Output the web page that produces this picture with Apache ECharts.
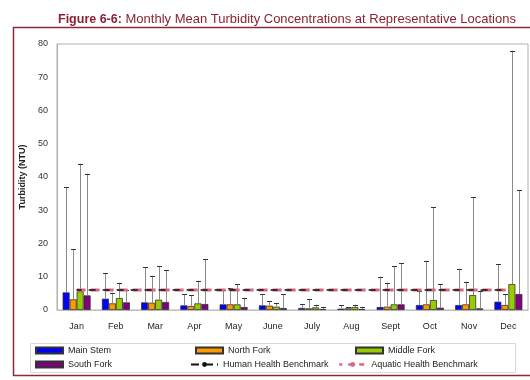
<!DOCTYPE html>
<html><head><meta charset="utf-8">
<script src="https://cdn.jsdelivr.net/npm/echarts@6/dist/echarts.min.js"></script>
<style>html,body{margin:0;padding:0;background:#fff}#c{width:530px;height:380px}</style>
</head><body><div id="c"></div>
<script>
var months = ['Jan','Feb','Mar','Apr','May','June','July','Aug','Sept','Oct','Nov','Dec'];
var yTicks = [0,10,20,30,40,50,60,70,80];
var mainStem      = [5.3, 3.4, 2.3, 1.4, 1.7, 1.4, 0.6, 0.4, 0.9, 1.5, 1.5, 2.5];
var mainStemErr   = [37, 11, 12.8, 4.8, 6, 4.8, 1.8, 1.5, 10, 5.8, 12.2, 13.8];
var northFork     = [3.2, 2.0, 2.2, 1.2, 1.7, 1.3, 0.5, 0.5, 1.0, 1.7, 1.7, 1.5];
var northForkErr  = [18.3, 5.2, 10.3, 4.4, 6.5, 2.7, 3.3, 0.9, 8.2, 14.8, 8.5, 4.8];
var middleFork    = [5.6, 3.6, 3.1, 2.0, 1.7, 1.0, 0.8, 0.9, 1.7, 3.0, 4.5, 7.8];
var middleForkErr = [44, 8.2, 13.2, 8.8, 7.8, 2.0, 1.6, 1.6, 13.1, 31, 34, 78];
var southFork     = [4.4, 2.3, 2.4, 1.8, 0.9, 0.6, 0.3, 0.3, 1.7, 0.7, 0.5, 4.8];
var southForkErr  = [41, 6, 12, 15.3, 3.7, 4.8, 1.0, 0.8, 14, 7.8, 5.8, 36];
var humanBenchmark   = [6,6,6,6,6,6,6,6,6,6,6,6];
var aquaticBenchmark = [6,6,6,6,6,6,6,6,6,6,6,6];

var seriesNames = ['Main Stem','North Fork','Middle Fork','South Fork'];
var seriesColors = ['#0000ff','#ff9900','#99cc00','#800080'];
var seriesVals = [mainStem, northFork, middleFork, southFork];
var seriesErrs = [mainStemErr, northForkErr, middleForkErr, southForkErr];

var BW = 7, GAP = 0;
var errData = [];
for (var s = 0; s < 4; s++) {
  for (var i = 0; i < months.length; i++) {
    errData.push([i, seriesVals[s][i], seriesErrs[s][i], s]);
  }
}

var chart = echarts.init(document.getElementById('c'));
var font = 'Arial, "Liberation Sans", sans-serif';
var series = [];
for (var k = 0; k < 4; k++) {
  series.push({
    name: seriesNames[k], type: 'bar', data: seriesVals[k],
    barWidth: BW, barGap: GAP + '%',
    itemStyle: {color: seriesColors[k], borderColor: '#333', borderWidth: 0.8},
    z: 2
  });
}
series.push({
  type: 'custom', name: 'err', data: errData, z: 3, silent: true,
  renderItem: function (params, api) {
    var cat = api.value(0), v = api.value(1), e = api.value(2), s = api.value(3);
    var p0 = api.coord([cat, v]);
    var p1 = api.coord([cat, e]);
    var x = Math.round(p0[0] + (s - 1.5) * BW * (1 + GAP / 100)) + 0.5;
    return {type: 'group', children: [
      {type: 'line', shape: {x1: x, y1: p0[1], x2: x, y2: p1[1]}, style: {stroke: '#8a8a8a', lineWidth: 1}},
      {type: 'line', shape: {x1: x - 2.5, y1: Math.round(p1[1]) + 0.5, x2: x + 2.5, y2: Math.round(p1[1]) + 0.5}, style: {stroke: '#333', lineWidth: 1}}
    ]};
  }
});
series.push({
  name: 'Aquatic Health Benchmark', type: 'line', data: aquaticBenchmark, symbol: 'none', z: 4,
  lineStyle: {color: '#d46a80', width: 3, type: [9, 5]}, itemStyle: {color: '#d46a80'}
});
series.push({
  name: 'Human Health Benchmark', type: 'line', data: humanBenchmark, symbol: 'none', z: 5,
  lineStyle: {color: '#111', width: 1.5, type: [7, 7], dashOffset: 2}, itemStyle: {color: '#111'}
});

var legText = {fontSize: 9, color: '#222', fontFamily: font};
function leg(name, left, top, icon, ls) {
  var d = {name: name};
  if (icon) d.icon = icon;
  if (ls) d.lineStyle = ls;
  return {data: [d], left: left, top: top, itemWidth: 27, itemHeight: 6,
    itemGap: 2, textStyle: legText, padding: 0, selectedMode: false};
}

chart.setOption({
  animation: false,
  backgroundColor: '#fff',
  title: {
    text: '{b|Figure 6-6:}{r| Monthly Mean Turbidity Concentrations at Representative Locations}',
    left: 53, top: 8,
    textStyle: {fontWeight: 'normal', rich: {
      b: {fontSize: 12.5, fontWeight: 'bold', color: '#8b2232', fontFamily: font},
      r: {fontSize: 13, fontWeight: 'normal', color: '#8b2232', fontFamily: font}
    }}
  },
  graphic: [
    {type: 'rect', shape: {x: 13.5, y: 27.5, width: 530, height: 348}, style: {fill: 'none', stroke: '#8b2a3a', lineWidth: 1.5}, z: 0},
    {type: 'rect', shape: {x: 30.5, y: 343.5, width: 485, height: 29}, style: {fill: 'none', stroke: '#d8d8d8', lineWidth: 1}, z: 0}
  ],
  legend: [
    leg('Main Stem', 35, 346, 'rect'),
    leg('North Fork', 195, 346, 'rect'),
    leg('Middle Fork', 355, 346, 'rect'),
    leg('South Fork', 35, 360, 'rect'),
    leg('Human Health Benchmark', 190, 360, null, {type: [10, 4], width: 2}),
    leg('Aquatic Health Benchmark', 338, 360, null, {type: [5, 6], width: 2.5})
  ],
  grid: {left: 57, right: 2, top: 44, bottom: 70, show: true, borderColor: '#b0b0b0', borderWidth: 1},
  xAxis: {
    type: 'category', data: months,
    axisLine: {lineStyle: {color: '#c0c0c0'}}, axisTick: {show: false},
    axisLabel: {fontSize: 9, color: '#222', margin: 12, fontFamily: font}
  },
  yAxis: {
    type: 'value', min: 0, max: 80, interval: 10,
    name: 'Turbidity (NTU)', nameLocation: 'middle', nameGap: 25,
    nameTextStyle: {fontSize: 9, fontWeight: 'bold', color: '#222', fontFamily: font},
    axisLine: {show: true, lineStyle: {color: '#b0b0b0'}}, axisTick: {show: false},
    splitLine: {show: false},
    axisLabel: {fontSize: 9, color: '#333', margin: 9, fontFamily: font,
      formatter: function (v) { return yTicks.indexOf(v) >= 0 ? String(v) : ''; }}
  },
  series: series
});
</script></body></html>
